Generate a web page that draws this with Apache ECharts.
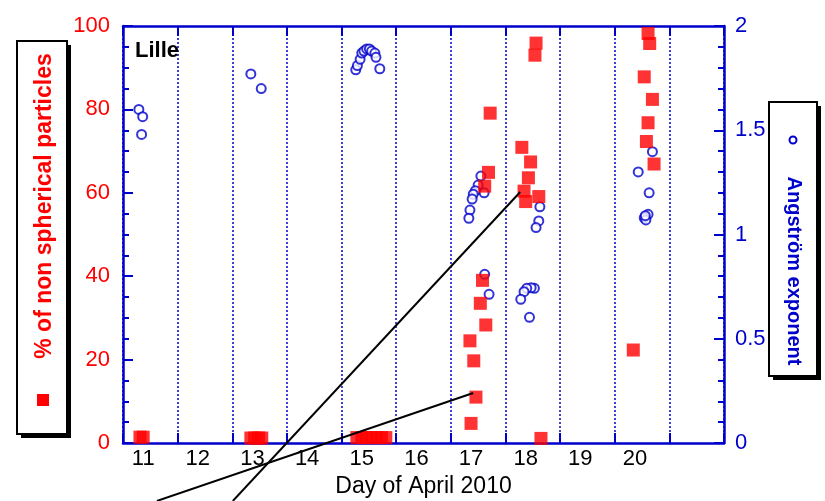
<!DOCTYPE html>
<html>
<head>
<meta charset="utf-8">
<script src="https://cdn.jsdelivr.net/npm/echarts@6/dist/echarts.min.js"></script>
<style>html,body{margin:0;padding:0;background:#fff}#c{width:825px;height:501px}</style>
</head>
<body>
<div id="c"></div>
<script>
// ---- data (day of April 2010) ----
const dayLabels = [11, 12, 13, 14, 15, 16, 17, 18, 19, 20];
const pctDays = [10.94, 11.0,
  12.97, 13.04, 13.11, 13.17,
  14.91, 15.0, 15.09, 15.18, 15.27, 15.36, 15.44,
  17.35, 17.32, 17.25, 17.21, 17.17, 17.27, 16.98, 17.05, 17.09, 17.0,
  18.19, 18.17, 17.93, 18.09, 18.05, 17.97, 18.0, 18.24, 18.28,
  20.24, 20.27, 20.17, 20.32, 20.24, 20.21, 20.35, 19.97];
const pctValues = [1.4, 1.4,
  1.2, 1.2, 1.2, 1.2,
  1.3, 1.3, 1.3, 1.3, 1.3, 1.3, 1.3,
  79.1, 64.9, 61.6, 39.0, 33.5, 28.3, 24.5, 19.7, 11.0, 4.7,
  95.9, 93.0, 70.9, 67.4, 63.6, 60.4, 57.9, 59.1, 1.1,
  98.2, 95.8, 87.8, 82.4, 76.8, 72.3, 66.9, 22.3];
const angDays = [10.92, 10.99, 10.97,
  12.97, 13.16,
  14.89, 14.92, 14.97, 15.0, 15.04, 15.09, 15.14, 15.18, 15.24, 15.26, 15.33,
  17.18, 17.13, 17.08, 17.04, 17.02, 17.24, 16.98, 16.96, 17.25, 17.33,
  18.26, 18.24, 18.19, 18.16, 18.10, 18.02, 17.97, 17.91, 18.07,
  20.32, 20.06, 20.26, 20.24, 20.17, 20.2, 20.19];
const angValues = [1.60, 1.565, 1.48,
  1.77, 1.70,
  1.79, 1.81, 1.84, 1.87, 1.88, 1.89, 1.89, 1.88, 1.87, 1.85, 1.795,
  1.28, 1.237, 1.21, 1.193, 1.17, 1.20, 1.117, 1.078, 0.809, 0.713,
  1.133, 1.065, 1.033, 0.742, 0.745, 0.742, 0.726, 0.689, 0.603,
  1.397, 1.30, 1.20, 1.097, 1.08, 1.07, 1.09];
// annotation pointer lines: [startDay, startPct, endDay, endPct]
const pointerLines = [[11.25, -13.9, 17.04, 12.0], [12.64, -13.9, 17.90, 60.2]];
const xMin = 10.63, xMax = 21.63;

const FONT = 'Liberation Sans, Arial, sans-serif';
const BLUE = '#0000cc', RED = '#ff0000';
const chart = echarts.init(document.getElementById('c'), null, {renderer: 'canvas'});

const option = {
  animation: false,
  backgroundColor: '#fff',
  grid: {left: 123, right: 101, top: 26, bottom: 58, containLabel: false, outerBoundsMode: 'none'},
  xAxis: [
    {type: 'value', min: xMin, max: xMax, position: 'bottom',
     axisLine: {onZero: false, lineStyle: {color: BLUE, width: 2.5}},
     axisTick: {show: false}, splitLine: {show: false},
     axisLabel: {customValues: dayLabels, color: '#000', fontSize: 22, fontFamily: FONT, margin: 5},
     name: 'Day of April 2010', nameLocation: 'middle', nameGap: 32,
     nameTextStyle: {color: '#000', fontSize: 23, fontFamily: FONT}},
    {type: 'value', min: 0, max: 11, interval: 1, position: 'bottom',
     axisLine: {show: false, onZero: false},
     axisTick: {show: true, inside: true, length: 10, lineStyle: {color: BLUE, width: 2}},
     axisLabel: {show: false},
     splitLine: {show: true, lineStyle: {color: BLUE, width: 1.5, type: [2, 2]}}},
    {type: 'value', min: 0, max: 11, interval: 1, position: 'top',
     axisLine: {show: true, onZero: false, lineStyle: {color: BLUE, width: 2.5}},
     axisTick: {show: true, inside: true, length: 10, lineStyle: {color: BLUE, width: 2}},
     axisLabel: {show: false}, splitLine: {show: false}}
  ],
  yAxis: [
    {type: 'value', min: 0, max: 100, interval: 20, position: 'left',
     axisLine: {show: true, onZero: false, lineStyle: {color: BLUE, width: 2.5}},
     axisTick: {show: true, inside: true, length: 10, lineStyle: {color: BLUE, width: 2}},
     minorTick: {show: true, splitNumber: 4, length: 6, lineStyle: {color: BLUE, width: 2}},
     axisLabel: {color: RED, fontSize: 22, fontFamily: FONT, margin: 13},
     splitLine: {show: false}},
    {type: 'value', min: 0, max: 2, interval: 0.5, position: 'right',
     axisLine: {show: true, onZero: false, lineStyle: {color: BLUE, width: 2.5}},
     axisTick: {show: true, inside: true, length: 10, lineStyle: {color: BLUE, width: 2}},
     minorTick: {show: true, splitNumber: 5, length: 6, lineStyle: {color: BLUE, width: 2}},
     axisLabel: {color: BLUE, fontSize: 22, fontFamily: FONT, margin: 11, formatter: v => String(v)},
     splitLine: {show: false}}
  ],
  series: [
    {name: 'Angström exponent', type: 'scatter', xAxisIndex: 0, yAxisIndex: 1,
     symbol: 'emptyCircle', symbolSize: 9,
     itemStyle: {color: BLUE, borderColor: BLUE, borderWidth: 2},
     data: angDays.map((d, i) => [d, angValues[i]]), z: 3},
    {name: '% of non spherical particles', type: 'scatter', xAxisIndex: 0, yAxisIndex: 0,
     symbol: 'rect', symbolSize: 13, itemStyle: {color: RED},
     data: pctDays.map((d, i) => [d, pctValues[i]]), z: 4}
  ]
};
chart.setOption(option);

// decorations: label boxes, site name, pointer lines
const graphics = [];
function box(x, y, w, h) {
  graphics.push({type: 'rect', shape: {x: x + 4, y: y + 4, width: w, height: h}, style: {fill: '#000'}, z: 10});
  graphics.push({type: 'rect', shape: {x: x, y: y, width: w, height: h}, style: {fill: '#fff', stroke: '#000', lineWidth: 2}, z: 11});
}
box(17, 41, 50, 393);
graphics.push({type: 'text', x: 45, y: 206, rotation: Math.PI / 2, z: 12,
  style: {text: '% of non spherical particles', fill: RED, font: 'bold 23px ' + FONT, textAlign: 'center', textVerticalAlign: 'middle'}});
graphics.push({type: 'rect', shape: {x: 37, y: 394, width: 12, height: 12}, style: {fill: RED}, z: 12});
box(769, 102, 48, 274);
graphics.push({type: 'text', x: 794, y: 271, rotation: -Math.PI / 2, z: 12,
  style: {text: 'Angström exponent', fill: BLUE, font: 'bold 20px ' + FONT, textAlign: 'center', textVerticalAlign: 'middle'}});
graphics.push({type: 'circle', shape: {cx: 793, cy: 140, r: 3.5}, style: {fill: 'none', stroke: BLUE, lineWidth: 2}, z: 12});
graphics.push({type: 'text', x: 135, y: 51, z: 12,
  style: {text: 'Lille', fill: '#000', font: 'bold 22px ' + FONT, textAlign: 'left', textVerticalAlign: 'middle'}});
pointerLines.forEach(l => {
  const p1 = chart.convertToPixel({xAxisIndex: 0, yAxisIndex: 0}, [l[0], l[1]]);
  const p2 = chart.convertToPixel({xAxisIndex: 0, yAxisIndex: 0}, [l[2], l[3]]);
  graphics.push({type: 'line', shape: {x1: p1[0], y1: p1[1], x2: p2[0], y2: p2[1]}, style: {stroke: '#000', lineWidth: 2}, z: 20});
});
chart.setOption({graphic: graphics});
</script>
</body>
</html>
